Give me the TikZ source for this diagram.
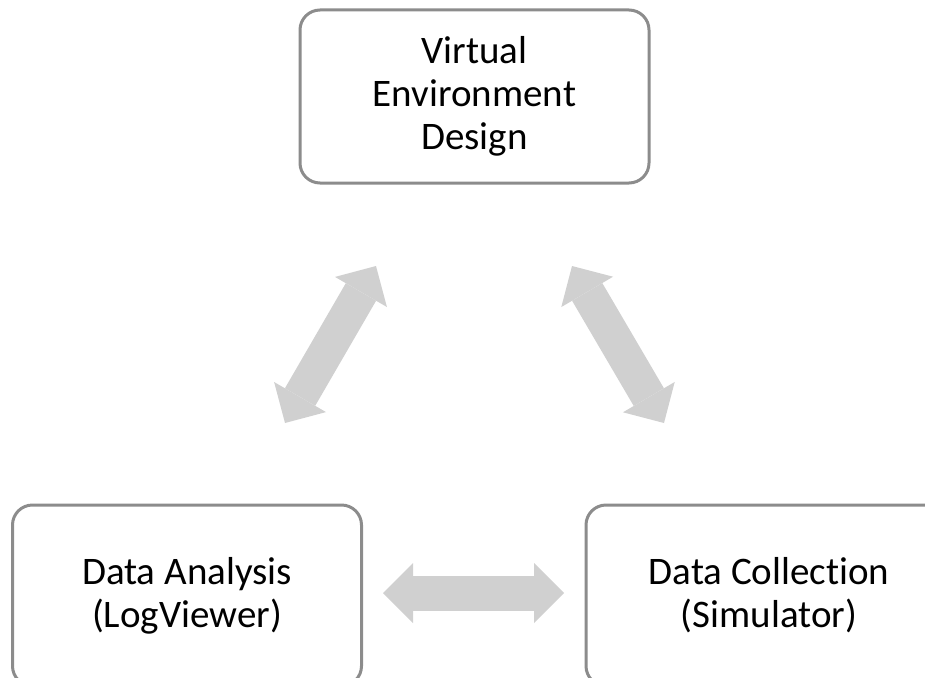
\documentclass[tikz,border=0pt]{standalone}
\usepackage{fontspec}
\setmainfont{Carlito}[Ligatures=NoCommon]
\usepackage{xcolor}
\usetikzlibrary{arrows.meta}
\definecolor{boxgray}{HTML}{8C8C8C}
\definecolor{arrowgray}{HTML}{D0D0D0}

\begin{document}
\begin{tikzpicture}[x=1pt,y=-1pt,font=\fontsize{39}{43}\selectfont]
    \tikzstyle{stage}=[shape=rectangle,rounded corners=20pt,draw=boxgray,line width=3pt,minimum width=349pt,align=center,inner sep=0pt]
    \tikzstyle{link}=[color=arrowgray,line width=35pt,{Triangle[length=30pt,width=60pt,line width=0pt]}-{Triangle[length=30pt,width=60pt,line width=0pt]}]

    \clip (0,0) rectangle (925,677);

    \node[stage,minimum height=173pt] (design) at (474.5,96.5) {Virtual\\Environment\\Design};
    \node[stage,minimum height=181pt] (analysis) at (187,595.5) {Data Analysis\\(LogViewer)};
    \node[stage,minimum height=181pt,minimum width=366pt] (collection) at (769,595.5) {Data Collection\\(Simulator)};

    % free ends of the block arrows
    \coordinate (analysis-up) at (285,423);
    \coordinate (design-left) at (376,266);
    \coordinate (design-right) at (572,266);
    \coordinate (collection-up) at (664,423);
    \coordinate (analysis-right) at (383,593);
    \coordinate (collection-left) at (564,593);

    \path[link]
    (analysis-up) edge (design-left)
    (design-right) edge (collection-up)
    (analysis-right) edge (collection-left)
    ;

\end{tikzpicture}
\end{document}
